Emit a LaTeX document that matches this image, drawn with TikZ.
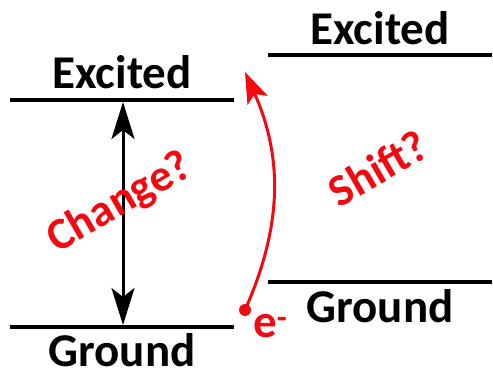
\documentclass[tikz,border=0pt]{standalone}
\usepackage{fontspec}
\setmainfont{Carlito}
\usepackage{xcolor}
\usetikzlibrary{arrows.meta, positioning}
\definecolor{levelblack}{RGB}{0,0,0}
\definecolor{shiftred}{RGB}{242,10,16}
\tikzset{
  level/.style={line width=3.5pt, color=levelblack},
  lbl/.style={font=\bfseries\fontsize{47}{50}\selectfont, anchor=base,
              inner sep=0pt},
  qlbl/.style={font=\bfseries\fontsize{45}{48}\selectfont, text=shiftred,
               rotate=30, inner sep=0pt},
  dblarr/.style={{Stealth[length=37pt, width=23pt, inset=9pt]}-{Stealth[length=37pt, width=23pt, inset=9pt]},
                 line width=3pt, color=levelblack},
  jump/.style={-{Stealth[length=31pt, width=22pt, inset=7pt]},
               line width=3pt, color=shiftred}
}
\begin{document}
\begin{tikzpicture}[x=1pt, y=-1pt]
  \useasboundingbox (0,0) rectangle (493,371);

  % left levels
  \coordinate (exLa) at (10,100);
  \coordinate (exLb) at (234,100);
  \coordinate (grLa) at (10,327);
  \coordinate (grLb) at (234,327);
  \draw[level] (exLa) -- (exLb);
  \draw[level] (grLa) -- (grLb);
  \node[lbl] (exLtext) at (122,89) {Excited};
  \node[lbl] (grLtext) at (122,367) {Ground};

  % right levels
  \coordinate (exRa) at (268,55);
  \coordinate (exRb) at (492,55);
  \coordinate (grRa) at (268,282);
  \coordinate (grRb) at (492,282);
  \draw[level] (exRa) -- (exRb);
  \draw[level] (grRa) -- (grRb);
  \node[lbl] (exRtext) at (380,45) {Excited};
  \node[lbl] (grRtext) at (380,323) {Ground};

  % gap arrow
  \coordinate (gapTop) at (123,102);
  \coordinate (gapBot) at (123,325);
  \draw[dblarr] (gapTop) -- (gapBot);

  % electron and jump
  \node[circle, fill=shiftred, minimum size=12pt, inner sep=0pt]
    (elec) at (245,310) {};
  \coordinate (jumpEnd) at (245,72);
  \draw[jump] (elec.center) to[bend right=24] (jumpEnd);
  \node[lbl, text=shiftred, anchor=base west] (etext) at (253,338)
    {e\textsuperscript{-}};

  % questions
  \node[qlbl] (change) at (120,203) {Change?};
  \node[qlbl] (shift) at (378,168) {Shift?};

\end{tikzpicture}
\end{document}
